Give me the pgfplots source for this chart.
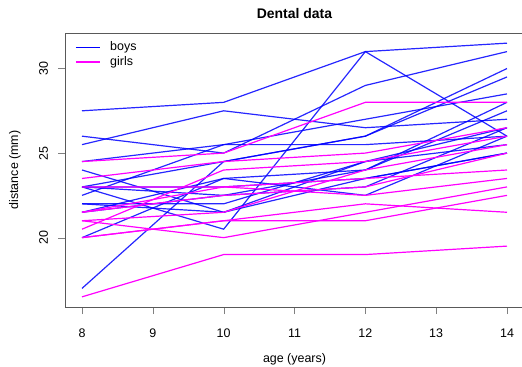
\documentclass[border=0pt]{standalone}
\usepackage{pgfplots}
\pgfplotsset{compat=1.18}
\usepackage{fontspec}
\setmainfont{Liberation Sans}
\definecolor{boyc}{RGB}{0,0,255}
\definecolor{girlc}{RGB}{255,0,255}
\begin{document}
\begin{tikzpicture}[x=1bp,y=1bp]
\begin{axis}[
  at={(65bp,60bp)}, anchor=south west,
  scale only axis, width=459bp, height=274bp,
  xmin=7.76, xmax=14.24, ymin=15.9, ymax=32.1,
  xtick={8,9,10,11,12,13,14}, ytick={20,25,30},
  tick align=outside, major tick length=7bp,
  xtick pos=bottom, ytick pos=left,
  axis line style={black!65, line width=0.9bp},
  /pgf/number format/assume math mode=true,
  tick label style={font=\fontsize{12.5}{14}\selectfont},
  xticklabel style={anchor=center, yshift=-19bp},
  yticklabel style={rotate=90, anchor=center, yshift=14.5bp},
  xlabel={age (years)}, ylabel={distance (mm)},
  label style={font=\fontsize{12.5}{14}\selectfont},
  xlabel style={at={(axis description cs:0.5,0)}, anchor=center, yshift=-52bp},
  ylabel style={at={(axis description cs:0,0.5)}, anchor=center, yshift=50bp},
  title={\textbf{Dental data}},
  title style={font=\fontsize{14}{16}\selectfont, at={(axis description cs:0.5,1)}, anchor=center, yshift=13.5bp},
]
% legend (key lines and labels)
\addplot[boyc, line width=1.4bp, forget plot] coordinates {(7.915,31.25) (8.254,31.25)};
\addplot[girlc, line width=1.4bp, forget plot] coordinates {(7.915,30.38) (8.254,30.38)};
\node[anchor=west, font=\fontsize{12.5}{14}\selectfont, inner sep=0pt] at (axis cs:8.395,31.25) {boys};
\node[anchor=west, font=\fontsize{12.5}{14}\selectfont, inner sep=0pt] at (axis cs:8.395,30.38) {girls};
% boys
\addplot[boyc, opacity=0.85, line width=1.2bp, forget plot] coordinates {(8,26) (10,25) (12,29) (14,31)};
\addplot[boyc, opacity=0.85, line width=1.2bp, forget plot] coordinates {(8,21.5) (10,22.5) (12,23) (14,26.5)};
\addplot[boyc, opacity=0.85, line width=1.2bp, forget plot] coordinates {(8,23) (10,22.5) (12,24) (14,27.5)};
\addplot[boyc, opacity=0.85, line width=1.2bp, forget plot] coordinates {(8,25.5) (10,27.5) (12,26.5) (14,27)};
\addplot[boyc, opacity=0.85, line width=1.2bp, forget plot] coordinates {(8,20) (10,23.5) (12,22.5) (14,26)};
\addplot[boyc, opacity=0.85, line width=1.2bp, forget plot] coordinates {(8,24.5) (10,25.5) (12,27) (14,28.5)};
\addplot[boyc, opacity=0.85, line width=1.2bp, forget plot] coordinates {(8,22) (10,22) (12,24.5) (14,26.5)};
\addplot[boyc, opacity=0.85, line width=1.2bp, forget plot] coordinates {(8,24) (10,21.5) (12,24.5) (14,25.5)};
\addplot[boyc, opacity=0.85, line width=1.2bp, forget plot] coordinates {(8,23) (10,20.5) (12,31) (14,26)};
\addplot[boyc, opacity=0.85, line width=1.2bp, forget plot] coordinates {(8,27.5) (10,28) (12,31) (14,31.5)};
\addplot[boyc, opacity=0.85, line width=1.2bp, forget plot] coordinates {(8,23) (10,23) (12,23.5) (14,25)};
\addplot[boyc, opacity=0.85, line width=1.2bp, forget plot] coordinates {(8,21.5) (10,23.5) (12,24) (14,28)};
\addplot[boyc, opacity=0.85, line width=1.2bp, forget plot] coordinates {(8,17) (10,24.5) (12,26) (14,29.5)};
\addplot[boyc, opacity=0.85, line width=1.2bp, forget plot] coordinates {(8,22.5) (10,25.5) (12,25.5) (14,26)};
\addplot[boyc, opacity=0.85, line width=1.2bp, forget plot] coordinates {(8,23) (10,24.5) (12,26) (14,30)};
\addplot[boyc, opacity=0.85, line width=1.2bp, forget plot] coordinates {(8,22) (10,21.5) (12,23.5) (14,25)};
% girls
\addplot[girlc, line width=1.2bp, forget plot] coordinates {(8,21) (10,20) (12,21.5) (14,23)};
\addplot[girlc, line width=1.2bp, forget plot] coordinates {(8,21) (10,21.5) (12,24) (14,25.5)};
\addplot[girlc, line width=1.2bp, forget plot] coordinates {(8,20.5) (10,24) (12,24.5) (14,26)};
\addplot[girlc, line width=1.2bp, forget plot] coordinates {(8,23.5) (10,24.5) (12,25) (14,26.5)};
\addplot[girlc, line width=1.2bp, forget plot] coordinates {(8,21.5) (10,23) (12,22.5) (14,23.5)};
\addplot[girlc, line width=1.2bp, forget plot] coordinates {(8,20) (10,21) (12,21) (14,22.5)};
\addplot[girlc, line width=1.2bp, forget plot] coordinates {(8,21.5) (10,22.5) (12,23) (14,25)};
\addplot[girlc, line width=1.2bp, forget plot] coordinates {(8,23) (10,23) (12,23.5) (14,24)};
\addplot[girlc, line width=1.2bp, forget plot] coordinates {(8,20) (10,21) (12,22) (14,21.5)};
\addplot[girlc, line width=1.2bp, forget plot] coordinates {(8,16.5) (10,19) (12,19) (14,19.5)};
\addplot[girlc, line width=1.2bp, forget plot] coordinates {(8,24.5) (10,25) (12,28) (14,28)};
\end{axis}
\pgfresetboundingbox
\useasboundingbox (0bp,0bp) rectangle (522bp,367bp);
\end{tikzpicture}
\end{document}
